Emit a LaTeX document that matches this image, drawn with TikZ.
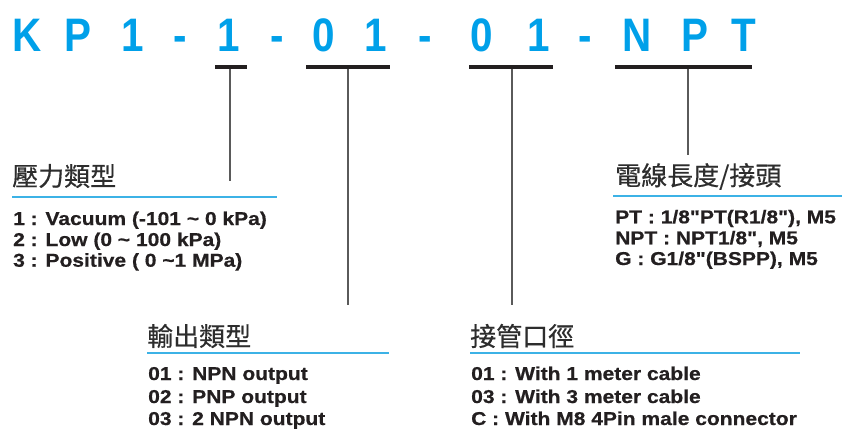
\documentclass[tikz,border=0pt]{standalone}
\usepackage{fontspec}
\newfontfamily\titlefont{Liberation Sans Bold}[FakeStretch=0.86]
\newfontfamily\bodyfont{Liberation Sans Bold}[FakeStretch=1.13,FakeBold=0.6]
\newfontfamily\cjk{Noto Sans CJK TC}[FakeBold=0.5]
\definecolor{titleblue}{RGB}{0,160,233}
\definecolor{lineblue}{RGB}{60,178,230}
\definecolor{ink}{RGB}{35,31,32}
\definecolor{headgray}{RGB}{45,45,45}
\definecolor{stemgray}{RGB}{90,90,90}
\tikzset{
  tchar/.style={anchor=base, inner sep=0pt, text=titleblue, font=\titlefont\fontsize{47}{47}\selectfont},
  head/.style={anchor=west, inner sep=0pt, text=headgray, font=\cjk\fontsize{26}{26}\selectfont},
  item/.style={anchor=base west, inner sep=0pt, text=ink, font=\bodyfont\fontsize{18.6}{18.6}\selectfont},
  uline/.style={draw=lineblue, line width=2.6pt},
  bar/.style={draw=ink, line width=3.5pt},
  stem/.style={draw=stemgray, line width=1.6pt}
}
\begin{document}
\begin{tikzpicture}[x=1pt,y=-1pt]
\useasboundingbox (0,0) rectangle (844,429);
% title
\node[tchar] (c1) at (27.5,51) {K};
\node[tchar] (c2) at (78,51) {P};
\node[tchar] (c3) at (133,51) {1};
\node[tchar] (c4) at (180,51) {-};
\node[tchar] (c5) at (229,51) {1};
\node[tchar] (c6) at (277,51) {-};
\node[tchar] (c7) at (324,51) {0};
\node[tchar] (c8) at (375.5,51) {1};
\node[tchar] (c9) at (425,51) {-};
\node[tchar] (c10) at (481.5,51) {0};
\node[tchar] (c11) at (538.5,51) {1};
\node[tchar] (c12) at (585,51) {-};
\node[tchar] (c13) at (637,51) {N};
\node[tchar] (c14) at (694.5,51) {P};
\node[tchar] (c15) at (744,51) {T};
% bars
\coordinate (b1l) at (215,67); \coordinate (b1r) at (247,67); \coordinate (b1m) at (230,67);
\coordinate (b2l) at (306,67); \coordinate (b2r) at (390,67); \coordinate (b2m) at (348,67);
\coordinate (b3l) at (469,67); \coordinate (b3r) at (553,67); \coordinate (b3m) at (512,67);
\coordinate (b4l) at (615,67); \coordinate (b4r) at (752,67); \coordinate (b4m) at (688,67);
\coordinate (s1) at (230,181);
\coordinate (s2) at (348,305);
\coordinate (s3) at (512,305);
\coordinate (s4) at (688,155);
\draw[stem] (b1m) -- (s1);
\draw[stem] (b2m) -- (s2);
\draw[stem] (b3m) -- (s3);
\draw[stem] (b4m) -- (s4);
\draw[bar] (b1l) -- (b1r);
\draw[bar] (b2l) -- (b2r);
\draw[bar] (b3l) -- (b3r);
\draw[bar] (b4l) -- (b4r);
% pressure type
\node[head] (h1) at (12,176) {壓力類型};
\coordinate (u1l) at (12,197); \coordinate (u1r) at (277,197);
\draw[uline] (u1l) -- (u1r);
\node[item] (p1) at (13,225) {1 : Vacuum (-101 \textasciitilde{} 0 kPa)};
\node[item] (p2) at (13,246) {2 : Low (0 \textasciitilde{} 100 kPa)};
\node[item] (p3) at (13,266.7) {3 : Positive ( 0 \textasciitilde1 MPa)};
% cable / connector
\node[head] (h4) at (615,176.5) {電線長度/接頭};
\coordinate (u4l) at (613,196); \coordinate (u4r) at (842,196);
\draw[uline] (u4l) -- (u4r);
\node[item] (n1) at (615,223.3) {PT : 1/8"PT(R1/8"), M5};
\node[item] (n2) at (615,244.3) {NPT : NPT1/8", M5};
\node[item] (n3) at (615,265) {G : G1/8"(BSPP), M5};
% output type
\node[head] (h2) at (147,336) {輸出類型};
\coordinate (u2l) at (147,353); \coordinate (u2r) at (389,353);
\draw[uline] (u2l) -- (u2r);
\node[item] (o1) at (148,380) {01 : NPN output};
\node[item] (o2) at (148,403) {02 : PNP output};
\node[item] (o3) at (148,425) {03 : 2 NPN output};
% port
\node[head] (h3) at (470,336) {接管口徑};
\coordinate (u3l) at (470,353); \coordinate (u3r) at (800,353);
\draw[uline] (u3l) -- (u3r);
\node[item] (w1) at (471,380) {01 : With 1 meter cable};
\node[item] (w2) at (471,403) {03 : With 3 meter cable};
\node[item] (w3) at (471,425) {C : With M8 4Pin male connector};
\end{tikzpicture}
\end{document}
